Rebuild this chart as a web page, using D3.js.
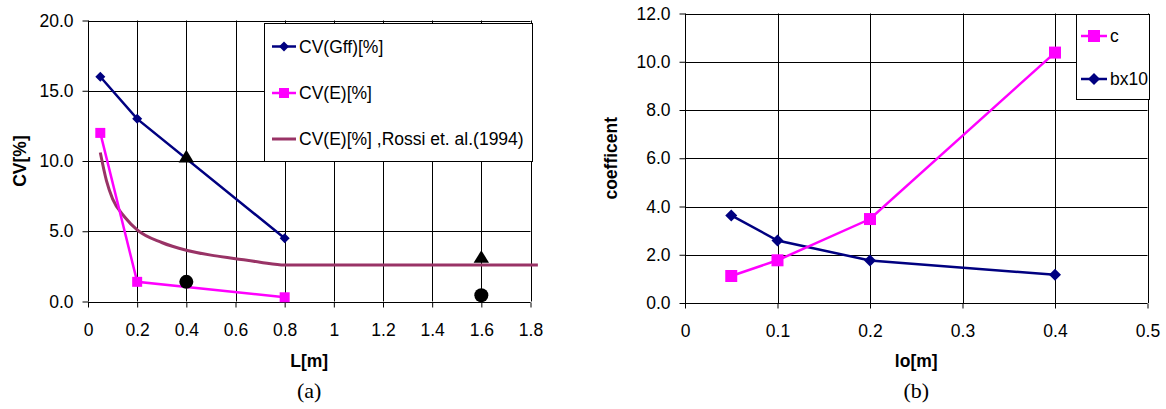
<!DOCTYPE html>
<html>
<head>
<meta charset="utf-8">
<script src="https://cdn.jsdelivr.net/npm/d3@7"></script>
<style>
  body { margin: 0; background: #fff; }
  svg { display: block; font-family: "Liberation Sans", Arial, sans-serif; }
</style>
</head>
<body>
<svg id="chart" width="1166" height="409"></svg>
<script>
// ---- panel (a) data ----
const aXTicks = [0, 0.2, 0.4, 0.6, 0.8, 1, 1.2, 1.4, 1.6, 1.8];
const aYTicks = [0, 5, 10, 15, 20];
const gffL = [0.05, 0.2, 0.8];
const gffCV = [16, 13, 4.5];
const eL = [0.05, 0.2, 0.8];
const eCV = [12, 1.4, 0.3];
const rossiL = [0.05, 0.075, 0.1, 0.15, 0.2, 0.3, 0.4, 0.5, 0.6, 0.7, 0.8, 1.2, 1.83];
const rossiCV = [10.6, 8.6, 7.3, 6.0, 5.1, 4.2, 3.65, 3.3, 3.05, 2.8, 2.6, 2.6, 2.6];
const triL = [0.4, 1.6];
const triCV = [10.3, 3.15];
const dotL = [0.4, 1.6];
const dotCV = [1.4, 0.44];
const aLegend = ["CV(Gff)[%]", "CV(E)[%]", "CV(E)[%] ,Rossi et. al.(1994)"];

// ---- panel (b) data ----
const bXTicks = [0, 0.1, 0.2, 0.3, 0.4, 0.5];
const bYTicks = [0, 2, 4, 6, 8, 10, 12];
const lo = [0.05, 0.1, 0.2, 0.4];
const cVals = [1.12, 1.77, 3.48, 10.38];
const bx10Vals = [3.63, 2.59, 1.76, 1.17];
const bLegend = ["c", "bx10"];

const navy = "#000080";
const magenta = "#ff00ff";
const maroon = "#993366";
const fontSize = 17.5;

const svg = d3.select("#chart");

function zip(xs, ys) {
  return xs.map((x, i) => [x, ys[i]]);
}

function panel(o) {
  const x = d3.scaleLinear().domain(o.xDomain).range([o.left, o.right]);
  const y = d3.scaleLinear().domain(o.yDomain).range([o.bottom, o.top]);
  const g = svg.append("g");

  // gridlines
  g.append("g")
    .selectAll("line.v")
    .data(o.xTicks.slice(1))
    .join("line")
    .attr("x1", (d) => Math.round(x(d)) + 0.5)
    .attr("x2", (d) => Math.round(x(d)) + 0.5)
    .attr("y1", o.top)
    .attr("y2", o.bottom)
    .attr("stroke", "#000");
  g.append("g")
    .selectAll("line.h")
    .data(o.yTicks.slice(1))
    .join("line")
    .attr("x1", o.left)
    .attr("x2", o.right)
    .attr("y1", (d) => Math.round(y(d)) + 0.5)
    .attr("y2", (d) => Math.round(y(d)) + 0.5)
    .attr("stroke", "#000");

  // axes
  const xAxis = d3.axisBottom(x).tickValues(o.xTicks).tickSize(5).tickPadding(16)
    .tickFormat(d3.format("~g"));
  const yAxis = d3.axisLeft(y).tickValues(o.yTicks).tickSize(6).tickPadding(9)
    .tickFormat(d3.format(".1f"));
  g.append("g")
    .attr("transform", `translate(0,${Math.round(y(0)) + 0.5})`)
    .call(xAxis)
    .call((s) => s.select(".domain").attr("d", `M${o.left},0H${x(o.xTicks[o.xTicks.length - 1])}`))
    .call((s) => s.selectAll("text").attr("font-size", fontSize).attr("font-family", "Liberation Sans, Arial").attr("fill", "#000"));
  g.append("g")
    .attr("transform", `translate(${Math.round(x(0)) + 0.5},0)`)
    .call(yAxis)
    .call((s) => s.select(".domain").attr("d", `M0,${o.bottom}V${o.top}`))
    .call((s) => s.selectAll("text").attr("font-size", fontSize).attr("font-family", "Liberation Sans, Arial").attr("fill", "#000"));

  // axis titles
  g.append("text")
    .attr("x", (o.left + o.right) / 2)
    .attr("y", o.xTitleY)
    .attr("text-anchor", "middle")
    .attr("font-weight", "bold")
    .attr("font-size", fontSize)
    .text(o.xTitle);
  g.append("text")
    .attr("transform", `translate(${o.yTitleX},${(o.top + o.bottom) / 2}) rotate(-90)`)
    .attr("text-anchor", "middle")
    .attr("font-weight", "bold")
    .attr("font-size", fontSize)
    .text(o.yTitle);
  g.append("text")
    .attr("x", (o.left + o.right) / 2)
    .attr("y", 398)
    .attr("text-anchor", "middle")
    .attr("font-family", "Liberation Serif, Times New Roman, serif")
    .attr("font-size", 22)
    .text(o.caption);

  return { g, x, y };
}

function drawLine(p, pts, color, width, curve) {
  p.g.append("path")
    .datum(pts)
    .attr("fill", "none")
    .attr("stroke", color)
    .attr("stroke-width", width)
    .attr("d", d3.line().x((d) => p.x(d[0])).y((d) => p.y(d[1])).curve(curve || d3.curveLinear));
}

function drawMarkers(p, pts, shape, size, color) {
  p.g.append("g")
    .selectAll("path")
    .data(pts)
    .join("path")
    .attr("transform", (d) => `translate(${p.x(d[0])},${p.y(d[1])})`)
    .attr("d", markerPath(shape, size))
    .attr("fill", color);
}

function markerPath(shape, s) {
  const h = s / 2;
  if (shape === "diamond") return `M0,${-h}L${h},0L0,${h}L${-h},0Z`;
  if (shape === "square") return `M${-h},${-h}H${h}V${h}H${-h}Z`;
  if (shape === "triangle") return `M0,${-s * 0.5}L${s * 0.55},${s * 0.4}L${-s * 0.55},${s * 0.4}Z`;
  return d3.symbol(d3.symbolCircle, Math.PI * h * h)();
}

function legend(p, o) {
  const lg = p.g.append("g");
  lg.append("rect")
    .attr("x", o.x + 0.5).attr("y", o.y + 0.5)
    .attr("width", o.w).attr("height", o.h)
    .attr("fill", "#fff").attr("stroke", "#000");
  o.items.forEach((it, i) => {
    const cy = o.rows[i];
    lg.append("line")
      .attr("x1", o.lineX1).attr("x2", o.lineX2)
      .attr("y1", cy).attr("y2", cy)
      .attr("stroke", it.color).attr("stroke-width", it.width);
    if (it.shape) {
      lg.append("path")
        .attr("transform", `translate(${(o.lineX1 + o.lineX2) / 2},${cy})`)
        .attr("d", markerPath(it.shape, it.size))
        .attr("fill", it.color);
    }
    lg.append("text")
      .attr("x", o.textX).attr("y", cy)
      .attr("dy", "0.35em")
      .attr("font-size", fontSize)
      .text(it.label);
  });
}

// ---- panel (a) ----
const pa = panel({
  left: 88, right: 530.5, top: 20.5, bottom: 301.5,
  xDomain: [0, 1.8], yDomain: [0, 20],
  xTicks: aXTicks, yTicks: aYTicks,
  xTitle: "L[m]", xTitleY: 367, yTitle: "CV[%]", yTitleX: 26, caption: "(a)"
});
drawLine(pa, zip(rossiL, rossiCV), maroon, 3, d3.curveMonotoneX);
drawLine(pa, zip(gffL, gffCV), navy, 2.5);
drawMarkers(pa, zip(gffL, gffCV), "diamond", 10, navy);
drawLine(pa, zip(eL, eCV), magenta, 2.5);
drawMarkers(pa, zip(eL, eCV), "square", 10, magenta);
drawMarkers(pa, zip(triL, triCV), "triangle", 14, "#000");
drawMarkers(pa, zip(dotL, dotCV), "circle", 14, "#000");
legend(pa, {
  x: 264, y: 23, w: 268, h: 138,
  lineX1: 272, lineX2: 296, textX: 299,
  rows: [46.5, 93, 139],
  items: [
    { label: aLegend[0], color: navy, width: 2.5, shape: "diamond", size: 10 },
    { label: aLegend[1], color: magenta, width: 2.5, shape: "square", size: 10 },
    { label: aLegend[2], color: maroon, width: 3 }
  ]
});

// ---- panel (b) ----
const pb = panel({
  left: 685, right: 1147.5, top: 13.5, bottom: 303,
  xDomain: [0, 0.5], yDomain: [0, 12],
  xTicks: bXTicks, yTicks: bYTicks,
  xTitle: "lo[m]", xTitleY: 367, yTitle: "coefficent", yTitleX: 617, caption: "(b)"
});
drawLine(pb, zip(lo, bx10Vals), navy, 2.5);
drawMarkers(pb, zip(lo, bx10Vals), "diamond", 12, navy);
drawLine(pb, zip(lo, cVals), magenta, 2.5);
drawMarkers(pb, zip(lo, cVals), "square", 12, magenta);
legend(pb, {
  x: 1076, y: 14, w: 73, h: 85,
  lineX1: 1081, lineX2: 1107, textX: 1110,
  rows: [36, 79],
  items: [
    { label: bLegend[0], color: magenta, width: 2.5, shape: "square", size: 12 },
    { label: bLegend[1], color: navy, width: 2.5, shape: "diamond", size: 12 }
  ]
});
</script>
</body>
</html>
